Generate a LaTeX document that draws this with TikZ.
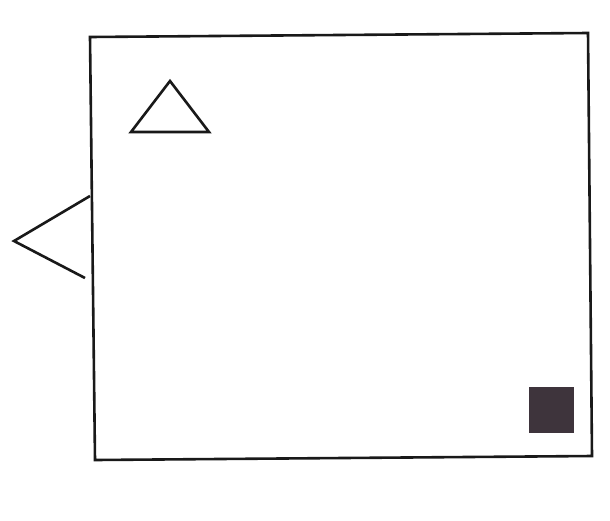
\documentclass[tikz,border=0pt]{standalone}
\begin{document}
\begin{tikzpicture}[x=1pt,y=-1pt,
  outline/.style={draw=black!90,line width=2.6pt,line join=miter},
  wedge/.style={draw=black!90,line width=2.6pt,line join=miter}]
\useasboundingbox[fill=white] (0,0) rectangle (610,520);
% frame
\draw[outline] (90,37) -- (588,33) -- (592,456) -- (95,460) -- cycle;
% small triangle
\draw[outline] (131,132) -- (170,81) -- (209,132) -- cycle;
% left wedge
\draw[wedge] (90,196) -- (14,241) -- (85,278);
% dark square
\fill[fill={rgb,255:red,62;green,52;blue,60}] (529,387) rectangle (574,433);
\end{tikzpicture}
\end{document}
